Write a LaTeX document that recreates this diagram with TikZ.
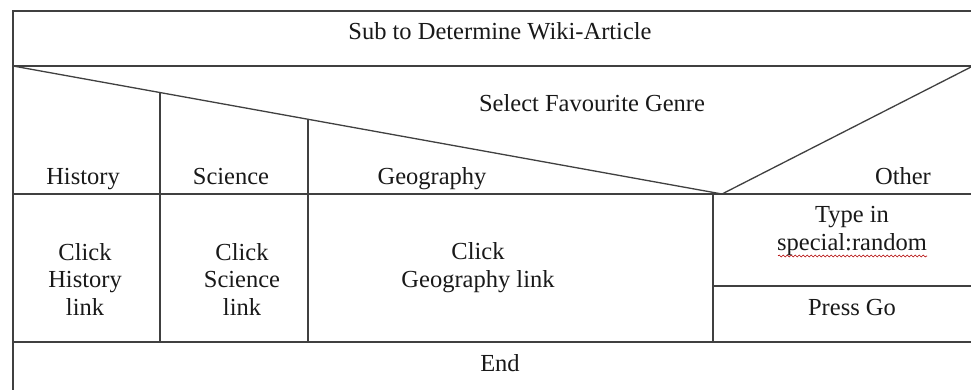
\documentclass[tikz,border=0pt]{standalone}
\usepackage{fontspec}
\setmainfont{Liberation Serif}
\usetikzlibrary{decorations.pathmorphing}
\begin{document}
\begin{tikzpicture}[x=1pt,y=-1pt,
  grid/.style={draw=black!75,line width=1.3pt},
  lbl/.style={font=\fontsize{24.5}{27.5}\selectfont,text=black!90,inner sep=0pt,align=center,anchor=base},
  squiggle/.style={draw=red!70!black,line width=0.6pt,decorate,decoration={snake,amplitude=1pt,segment length=4pt}}]
\useasboundingbox[fill=white] (0,0) rectangle (971,390);
% outer frame (cropped right and bottom)
\draw[grid] (971,11) -- (13,11) -- (13,390);
\draw[grid] (13,66) -- (971,66);
% decision triangle
\draw[grid] (13,66) -- (722,194) -- (971,67);
% row lines
\draw[grid] (13,194) -- (971,194);
\draw[grid] (13,342) -- (971,342);
\draw[grid] (713,286) -- (971,286);
% column lines
\draw[grid] (160,93) -- (160,342);
\draw[grid] (308,120) -- (308,342);
\draw[grid] (713,193) -- (713,342);
% texts (anchor = baseline of last line)
\node[lbl] (title) at (500,40) {Sub to Determine Wiki-Article};
\node[lbl] (genre) at (592,112) {Select Favourite Genre};
\node[lbl] (hist) at (83,185) {History};
\node[lbl] (sci) at (231,185) {Science};
\node[lbl] (geo) at (432,185) {Geography};
\node[lbl] (oth) at (903,185) {Other};
\node[lbl] (ch) at (85,315) {Click\\History\\link};
\node[lbl] (cs) at (242,315) {Click\\Science\\link};
\node[lbl] (cg) at (478,287) {Click\\Geography link};
\node[lbl] (ty) at (852,250) {Type in\\special:random};
\node[lbl] (pg) at (852,315) {Press Go};
\node[lbl] (end) at (500,371) {End};
\draw[squiggle] (778,256) -- (927,256);
\end{tikzpicture}
\end{document}
